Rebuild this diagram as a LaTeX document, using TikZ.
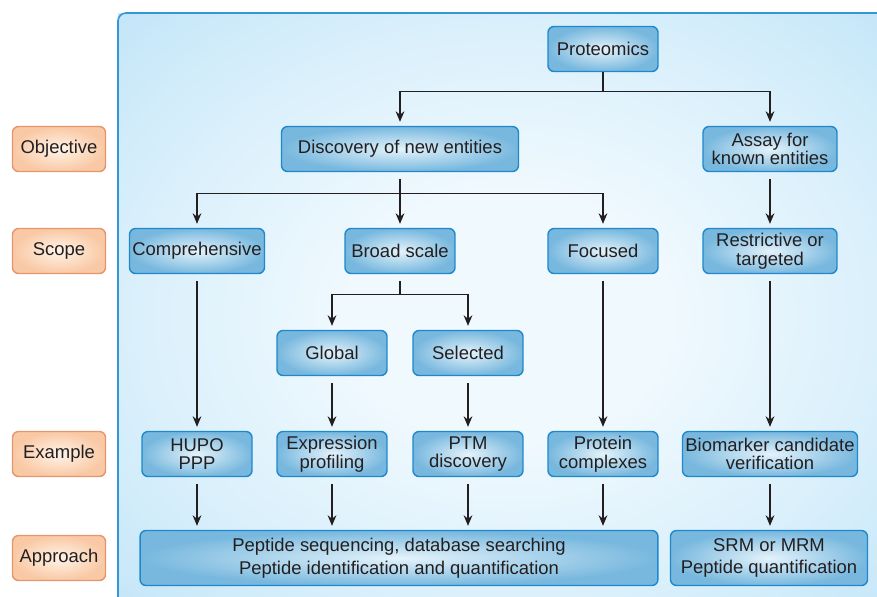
\documentclass[tikz,border=0pt]{standalone}
\usepackage{fontspec}
\setmainfont{Liberation Sans}
\usetikzlibrary{arrows.meta}

\definecolor{ink}{RGB}{35,31,32}
\definecolor{panelline}{RGB}{52,150,212}
\definecolor{panelin}{RGB}{240,249,254}
\definecolor{panelmid}{RGB}{216,239,251}
\definecolor{panelout}{RGB}{194,229,248}
\definecolor{boxline}{RGB}{30,136,204}
\definecolor{boxin}{RGB}{228,243,251}
\definecolor{boxout}{RGB}{120,184,222}
\definecolor{tagline}{RGB}{228,150,108}
\definecolor{tagin}{RGB}{255,244,232}
\definecolor{tagout}{RGB}{249,200,164}

\pgfdeclareradialshading{panelshade}{\pgfpointorigin}{%
  color(0bp)=(panelin); color(10bp)=(panelin); color(25bp)=(panelmid);
  color(36bp)=(panelout); color(50bp)=(panelout)}

\tikzset{
  box/.style={draw=boxline, line width=0.8pt, rounded corners=0.12cm,
    shade, inner color=boxin, outer color=boxout,
    minimum width=2.2cm, minimum height=0.9cm, inner sep=1pt,
    align=center, text=ink, font=\fontsize{10.5}{10.6}\selectfont},
  tag/.style={box, draw=tagline, inner color=tagin, outer color=tagout,
    minimum width=1.86cm},
  arr/.style={-{Stealth[length=6pt,width=5pt]}, draw=ink, line width=0.7pt,
    shorten >=0.08cm},
  gap/.style={shorten <=0.14cm},
}

\begin{document}
\begin{tikzpicture}[x=0.02cm, y=-0.02cm]
  \useasboundingbox (0,0) rectangle (877,596);
  % background panel
  \shade[shading=panelshade] (118,13) rectangle (900,620);
  \draw[panelline, line width=0.9pt, rounded corners=0.16cm]
    (118,620) -- (118,13) -- (900,13);

  % row labels
  \node[tag] (objective) at (59,149) {Objective};
  \node[tag] (scope)     at (59,251) {Scope};
  \node[tag] (example)   at (59,454) {Example};
  \node[tag] (approach)  at (59,558) {Approach};

  % tree
  \node[box] (prot)   at (603,49)  {Proteomics};
  \node[box, minimum width=4.74cm] (disc) at (400,149) {Discovery of new entities};
  \node[box, minimum width=2.68cm] (assay) at (770,149) {Assay for\\known entities};
  \node[box, minimum width=2.7cm] (comp) at (197,251) {Comprehensive};
  \node[box] (broad)  at (400,251) {Broad scale};
  \node[box] (focus)  at (603,251) {Focused};
  \node[box, minimum width=2.68cm] (restr) at (770,251) {Restrictive or\\targeted};
  \node[box] (glob)   at (332,353) {Global};
  \node[box] (sel)    at (468,353) {Selected};
  \node[box] (hupo)   at (197,454) {HUPO\\PPP};
  \node[box] (expr)   at (332,454) {Expression\\profiling};
  \node[box] (ptm)    at (468,454) {PTM\\discovery};
  \node[box] (cplx)   at (603,454) {Protein\\complexes};
  \node[box, minimum width=3.5cm] (bio) at (770,454) {Biomarker candidate\\verification};
  \node[box, minimum width=10.36cm, minimum height=1.1cm] (seq) at (399,558)
    {Peptide sequencing, database searching\\[2.4pt]Peptide identification and quantification};
  \node[box, minimum width=3.94cm, minimum height=1.1cm] (srm) at (769,558)
    {SRM or MRM\\[2.4pt]Peptide quantification};

  % branches
  \draw[arr] (prot.south) -- ++(0,19) -| (disc.north);
  \draw[arr] (prot.south) -- ++(0,19) -| (assay.north);
  \draw[arr, gap] (disc.south) -- ++(0,21) -| (comp.north);
  \draw[arr, gap] (disc.south) -- ++(0,21) -| (broad.north);
  \draw[arr, gap] (disc.south) -- ++(0,21) -| (focus.north);
  \draw[arr, gap] (broad.south) -- ++(0,20) -| (glob.north);
  \draw[arr, gap] (broad.south) -- ++(0,20) -| (sel.north);

  % straight links
  \draw[arr, gap] (assay.south) -- (restr.north);
  \draw[arr, gap] (comp.south) -- (hupo.north);
  \draw[arr, gap] (glob.south) -- (expr.north);
  \draw[arr, gap] (sel.south) -- (ptm.north);
  \draw[arr, gap] (focus.south) -- (cplx.north);
  \draw[arr, gap] (restr.south) -- (bio.north);
  \foreach \ex in {hupo, expr, ptm, cplx, bio}
    \draw[arr, gap] (\ex.south) -- (\ex.south |- seq.north);
\end{tikzpicture}
\end{document}
